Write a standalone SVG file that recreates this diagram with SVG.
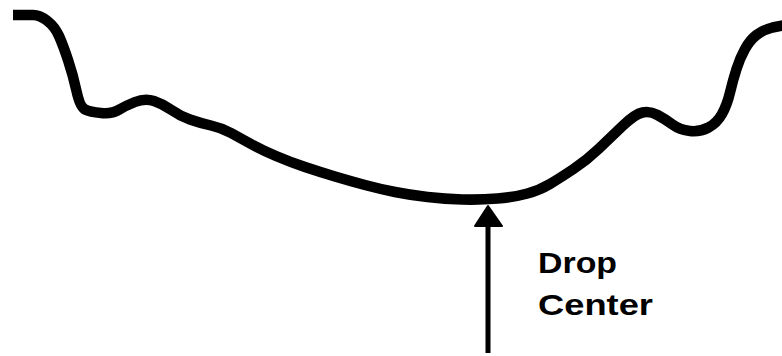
<svg xmlns="http://www.w3.org/2000/svg" width="782" height="356" viewBox="0 0 782 356">
<style>
.profile{fill:none;stroke:#000;stroke-width:10.5;stroke-linecap:butt;stroke-linejoin:round}
.shaft{fill:none;stroke:#000;stroke-width:5}
.head{fill:#000;stroke:#000;stroke-width:2;stroke-linejoin:round}
.lbl{font-family:"Liberation Sans",Arial,sans-serif;font-weight:bold;font-size:30px;fill:#000}
</style>
<rect width="782" height="356" fill="#fff"/>
<g id="rim-profile">
<path class="profile" d="M13,15 L33,15 Q40,15 47.5,21 Q55,27 59,36 Q63,45 68,60 Q73,75 76.5,91 Q80,107 85,109.5 Q90,112 101,113 Q112,114 118.5,110 Q125,106 135,102 Q145,98 154,101 Q163,104 171.5,110 Q180,116 190,119.5 Q200,123 211,125.5 Q222,128 231,133 Q240,138 251,144 Q262,150 276,156 Q290,162 305,167 Q320,172 335,176.5 Q350,181 365,185 Q380,189 395,192 Q410,195 427.5,197 Q445,199 462.5,199.5 Q480,200 497.5,198.5 Q515,197 527.5,193.5 Q540,190 550,184 Q560,178 573.5,169 Q587,160 598.5,149 Q610,138 622.5,126 Q635,114 642.5,112.5 Q650,111 657.5,115 Q665,119 672.5,124.5 Q680,130 690,131 Q700,132 708.5,127.5 Q717,123 722,114 Q727,105 730,92.5 Q733,80 736.5,69 Q740,58 745,49 Q750,40 756.5,35 Q763,30 772.5,27.5 L783,25.5"/>
</g>
<g id="connectors">
<line class="shaft" x1="488" y1="353" x2="488" y2="224"/>
<polygon class="head" points="488,206 475,226 502,226"/>
</g>
<g id="label-drop-center">
<text class="lbl" x="538" y="273" textLength="79" lengthAdjust="spacingAndGlyphs">Drop</text>
<text class="lbl" x="538" y="315" textLength="115" lengthAdjust="spacingAndGlyphs">Center</text>
</g>
</svg>
